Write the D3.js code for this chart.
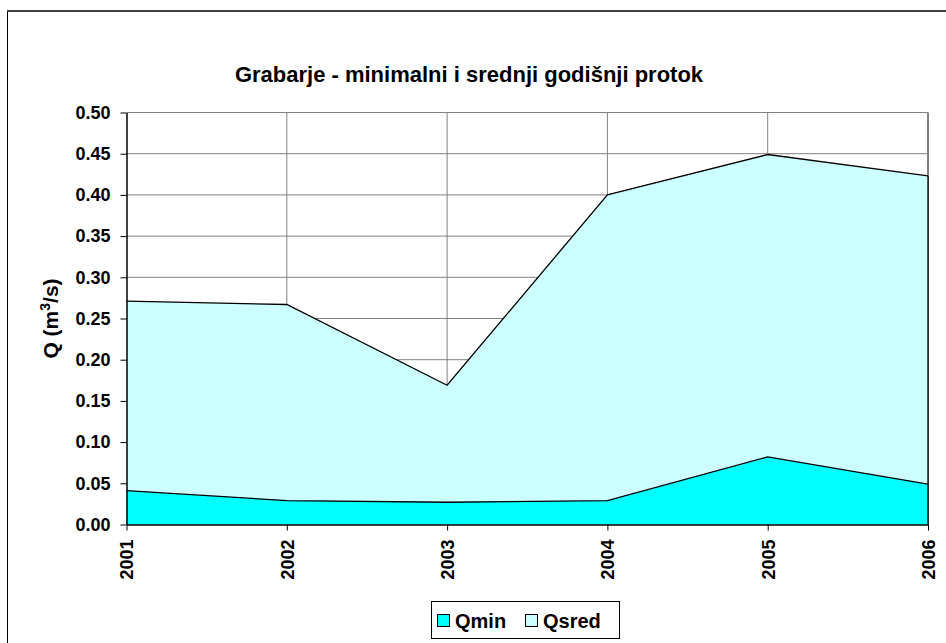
<!DOCTYPE html>
<html>
<head>
<meta charset="utf-8">
<script src="https://cdn.jsdelivr.net/npm/d3@7"></script>
<style>
  body { margin: 0; background: #fff; }
  text { font-family: "Liberation Sans", Arial, sans-serif; font-weight: bold; fill: #000; }
</style>
</head>
<body>
<div id="chart"></div>
<script>
const years = ["2001", "2002", "2003", "2004", "2005", "2006"];
const qsred = [0.271, 0.267, 0.169, 0.400, 0.449, 0.423];
const qmin = [0.041, 0.029, 0.027, 0.029, 0.082, 0.049];
const yTicks = [0, 0.05, 0.10, 0.15, 0.20, 0.25, 0.30, 0.35, 0.40, 0.45, 0.50];

const W = 946, H = 643;
const plotLeft = 126.5, plotRight = 928, plotTop = 112.5, plotBottom = 524.5;

const svg = d3.select("#chart").append("svg")
    .attr("width", W)
    .attr("height", H);

// outer chart border
svg.append("rect")
    .attr("x", 7.5).attr("y", 11)
    .attr("width", 960).attr("height", 700)
    .attr("fill", "none")
    .attr("stroke", "#000").attr("stroke-width", 1);
svg.append("line")
    .attr("x1", 7).attr("x2", W).attr("y1", 11).attr("y2", 11)
    .attr("stroke", "#404040").attr("stroke-width", 2);

const x = d3.scalePoint().domain(years).range([plotLeft, plotRight]);
const y = d3.scaleLinear().domain([0, 0.5]).range([plotBottom, plotTop]);

// gridlines
svg.append("g")
    .selectAll("line")
    .data(yTicks.slice(1))
    .enter().append("line")
    .attr("x1", plotLeft).attr("x2", plotRight)
    .attr("y1", d => y(d)).attr("y2", d => y(d))
    .attr("stroke", "#808080").attr("stroke-width", 1);

svg.append("g")
    .selectAll("line")
    .data(years.slice(1))
    .enter().append("line")
    .attr("x1", d => x(d)).attr("x2", d => x(d))
    .attr("y1", plotTop).attr("y2", plotBottom)
    .attr("stroke", "#808080").attr("stroke-width", d => d === "2006" ? 2 : 1);

// areas
const area = vals => d3.area()
    .x((d, i) => x(years[i]))
    .y0(y(0))
    .y1(d => y(d))(vals);
const line = vals => d3.line()
    .x((d, i) => x(years[i]))
    .y(d => y(d))(vals);

svg.append("path")
    .attr("d", area(qsred))
    .attr("fill", "#ccffff");
svg.append("path")
    .attr("d", line(qsred))
    .attr("fill", "none").attr("stroke", "#000").attr("stroke-width", 1.3);

svg.append("path")
    .attr("d", area(qmin))
    .attr("fill", "#00ffff");
svg.append("path")
    .attr("d", line(qmin))
    .attr("fill", "none").attr("stroke", "#000").attr("stroke-width", 1.3);

// right edge of the areas
svg.append("line")
    .attr("x1", plotRight).attr("x2", plotRight)
    .attr("y1", y(qsred[5])).attr("y2", plotBottom)
    .attr("stroke", "#000").attr("stroke-width", 1.3);

// axes
const yAxis = svg.append("g")
    .attr("transform", `translate(${plotLeft},0)`)
    .call(d3.axisLeft(y).tickValues(yTicks).tickFormat(d3.format(".2f")).tickSizeInner(6).tickSizeOuter(0).tickPadding(10));
yAxis.selectAll("text").style("font-size", "18px");

const xAxis = svg.append("g")
    .attr("transform", `translate(0,${plotBottom})`)
    .call(d3.axisBottom(x).tickSizeInner(6).tickSizeOuter(0));
xAxis.selectAll("text")
    .style("font-size", "18px")
    .attr("text-anchor", "end")
    .attr("transform", "rotate(-90)")
    .attr("x", -15).attr("y", 0).attr("dy", "0.35em");

svg.selectAll(".domain").attr("stroke", "#000").attr("stroke-width", 1.5);
svg.selectAll(".tick line").attr("stroke", "#000");

// title
svg.append("text")
    .attr("x", 469).attr("y", 82)
    .attr("text-anchor", "middle")
    .style("font-size", "22px")
    .text("Grabarje - minimalni i srednji godišnji protok");

// y title
const yt = svg.append("text")
    .attr("transform", `translate(58,${(plotTop + plotBottom) / 2}) rotate(-90)`)
    .attr("text-anchor", "middle")
    .style("font-size", "21px");
yt.append("tspan").text("Q (m");
yt.append("tspan").attr("dy", -8).style("font-size", "14px").text("3");
yt.append("tspan").attr("dy", 8).text("/s)");

// legend
const lg = svg.append("g");
lg.append("rect")
    .attr("x", 431.5).attr("y", 601.5)
    .attr("width", 188).attr("height", 37)
    .attr("fill", "#fff").attr("stroke", "#000");
const items = [{name: "Qmin", color: "#00ffff", x: 437}, {name: "Qsred", color: "#ccffff", x: 525}];
items.forEach(it => {
    lg.append("rect")
        .attr("x", it.x + 0.5).attr("y", 614.5)
        .attr("width", 12).attr("height", 12)
        .attr("fill", it.color).attr("stroke", "#000");
    lg.append("text")
        .attr("x", it.x + 18).attr("y", 628)
        .style("font-size", "20px")
        .text(it.name);
});
</script>
</body>
</html>
